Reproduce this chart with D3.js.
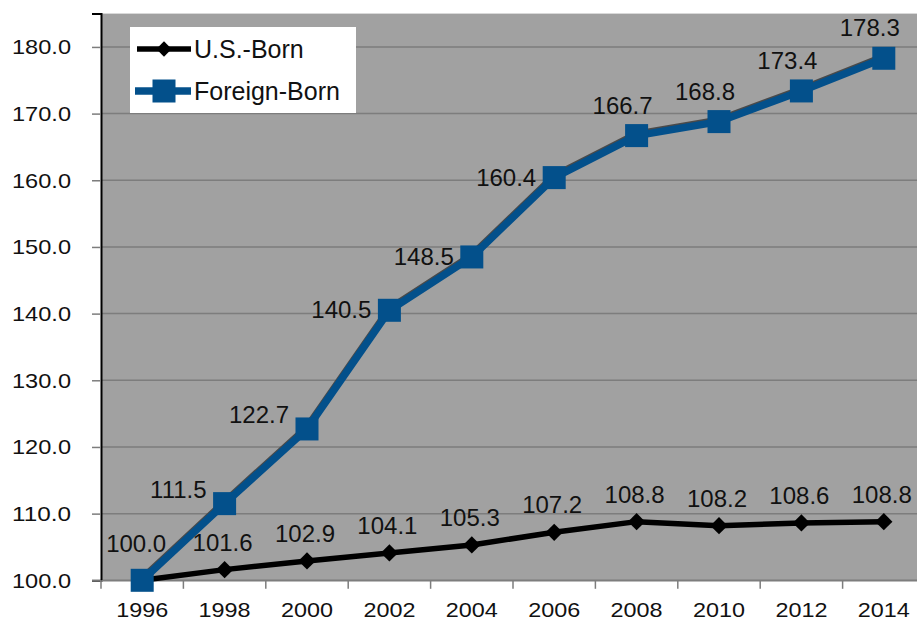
<!DOCTYPE html>
<html>
<head>
<meta charset="utf-8">
<script src="https://cdn.jsdelivr.net/npm/d3@7"></script>
<style>
  body { margin: 0; background: #fff; }
  svg { display: block; font-family: "Liberation Sans", Arial, sans-serif; }
</style>
</head>
<body>
<svg id="chart" width="917" height="620"></svg>
<script>
// data
var years = ["1996","1998","2000","2002","2004","2006","2008","2010","2012","2014"];
var usBorn = [100.0, 101.6, 102.9, 104.1, 105.3, 107.2, 108.8, 108.2, 108.6, 108.8];
var foreignBorn = [100.0, 111.5, 122.7, 140.5, 148.5, 160.4, 166.7, 168.8, 173.4, 178.3];
var yTicks = [100, 110, 120, 130, 140, 150, 160, 170, 180];
var seriesNames = ["U.S.-Born", "Foreign-Born"];

var blue = "#03508b";
var svg = d3.select("#chart");

var x = d3.scaleBand().domain(years).range([101, 925]);
var y = d3.scaleLinear().domain([100, 185]).range([580.3, 13.6]);
var cx = function(d, i){ return x(years[i]) + x.bandwidth() / 2; };

// plot background
svg.append("rect")
  .attr("x", 101).attr("y", y(185))
  .attr("width", 917 - 101).attr("height", y(100) - y(185))
  .attr("fill", "#a1a1a1");

// gridlines
svg.append("g").selectAll("line")
  .data(yTicks)
  .enter().append("line")
  .attr("x1", 101).attr("x2", 917)
  .attr("y1", function(d){ return y(d); })
  .attr("y2", function(d){ return y(d); })
  .attr("stroke", "#7d7d7d")
  .attr("stroke-width", 1.5);

// y axis
var yAxis = svg.append("g")
  .attr("transform", "translate(101,0)")
  .call(d3.axisLeft(y).tickValues(yTicks).tickFormat(d3.format(".1f")).tickSize(9).tickPadding(21));
yAxis.select(".domain").attr("stroke", "#000").attr("stroke-width", 2);
yAxis.selectAll(".tick line").attr("stroke", "#7d7d7d").attr("stroke-width", 1.5);
yAxis.selectAll("text")
  .attr("fill", "#111").style("font-size", "21px")
  .attr("textLength", 59).attr("lengthAdjust", "spacingAndGlyphs");

// x axis
var xAxis = svg.append("g")
  .attr("transform", "translate(0," + y(100) + ")")
  .call(d3.axisBottom(x).tickSizeOuter(0).tickSize(0).tickPadding(22));
xAxis.select(".domain").attr("stroke", "#7d7d7d").attr("stroke-width", 1.5);
xAxis.selectAll("text")
  .attr("fill", "#111").style("font-size", "21px")
  .attr("textLength", 52).attr("lengthAdjust", "spacingAndGlyphs");
// tick marks sit between categories
xAxis.append("g").selectAll("line")
  .data(years)
  .enter().append("line")
  .attr("x1", function(d){ return x(d); })
  .attr("x2", function(d){ return x(d); })
  .attr("y1", 0).attr("y2", 8.5)
  .attr("stroke", "#7d7d7d").attr("stroke-width", 1.5);

var line = d3.line().x(cx).y(function(d){ return y(d); });

// U.S.-Born series
svg.append("path")
  .datum(usBorn)
  .attr("d", line)
  .attr("fill", "none")
  .attr("stroke", "#000")
  .attr("stroke-width", 5.5)
  .attr("stroke-linejoin", "round");
svg.append("g").selectAll("path")
  .data(usBorn)
  .enter().append("path")
  .attr("d", d3.symbol(d3.symbolDiamond2, 190))
  .attr("transform", function(d, i){ return "translate(" + cx(d, i) + "," + y(d) + ")"; })
  .attr("fill", "#000");

// Foreign-Born series (faint shadow first)
svg.append("path")
  .datum(foreignBorn)
  .attr("d", line)
  .attr("transform", "translate(0,-1.5)")
  .attr("fill", "none")
  .attr("stroke", "#4a4a4a")
  .attr("stroke-width", 7.5)
  .attr("stroke-linejoin", "round");
svg.append("path")
  .datum(foreignBorn)
  .attr("d", line)
  .attr("fill", "none")
  .attr("stroke", blue)
  .attr("stroke-width", 7.5)
  .attr("stroke-linejoin", "round");
svg.append("g").selectAll("rect")
  .data(foreignBorn)
  .enter().append("rect")
  .attr("x", function(d, i){ return cx(d, i) - 11.5; })
  .attr("y", function(d){ return y(d) - 11.5; })
  .attr("width", 23).attr("height", 23)
  .attr("fill", blue);

// data labels
var labelFont = "24px";
svg.append("g").selectAll("text")
  .data(usBorn)
  .enter().append("text")
  .attr("x", function(d, i){ return cx(d, i) - (i === 0 ? 6 : 2); })
  .attr("y", function(d, i){ return y(d) - (i === 0 ? 28 : 19); })
  .attr("text-anchor", "middle")
  .style("font-size", labelFont)
  .attr("fill", "#111")
  .text(function(d){ return d.toFixed(1); });

svg.append("g").selectAll("text")
  .data(foreignBorn.slice(1))
  .enter().append("text")
  .each(function(d, j){
    var i = j + 1, t = d3.select(this);
    if (i < 6) {
      t.attr("x", cx(d, i) - 18).attr("y", y(d) + 8 - (i < 3 ? 14 : 0)).attr("text-anchor", "end");
    } else {
      t.attr("x", cx(d, i) - 14).attr("y", y(d) - 22).attr("text-anchor", "middle");
    }
  })
  .style("font-size", labelFont)
  .attr("fill", "#111")
  .text(function(d){ return d.toFixed(1); });

// legend
var legend = svg.append("g");
legend.append("rect")
  .attr("x", 130).attr("y", 27).attr("width", 226).attr("height", 86)
  .attr("fill", "#fff");
var items = legend.selectAll("g")
  .data(seriesNames)
  .enter().append("g")
  .attr("transform", function(d, i){ return "translate(164," + (i === 0 ? 49 : 91) + ")"; });
items.append("line")
  .attr("x1", function(d, i){ return i === 0 ? -27 : -29; })
  .attr("x2", 27)
  .attr("stroke", function(d, i){ return i === 0 ? "#000" : blue; })
  .attr("stroke-width", function(d, i){ return i === 0 ? 5.5 : 7.5; });
items.each(function(d, i){
  var g = d3.select(this);
  if (i === 0) {
    g.append("path").attr("d", d3.symbol(d3.symbolDiamond2, 150)).attr("fill", "#000");
  } else {
    g.append("rect").attr("x", -11.5).attr("y", -11.5).attr("width", 23).attr("height", 23).attr("fill", blue);
  }
});
items.append("text")
  .attr("x", 30).attr("y", 8.5)
  .style("font-size", "25px")
  .attr("fill", "#111")
  .text(function(d){ return d; });
</script>
</body>
</html>
